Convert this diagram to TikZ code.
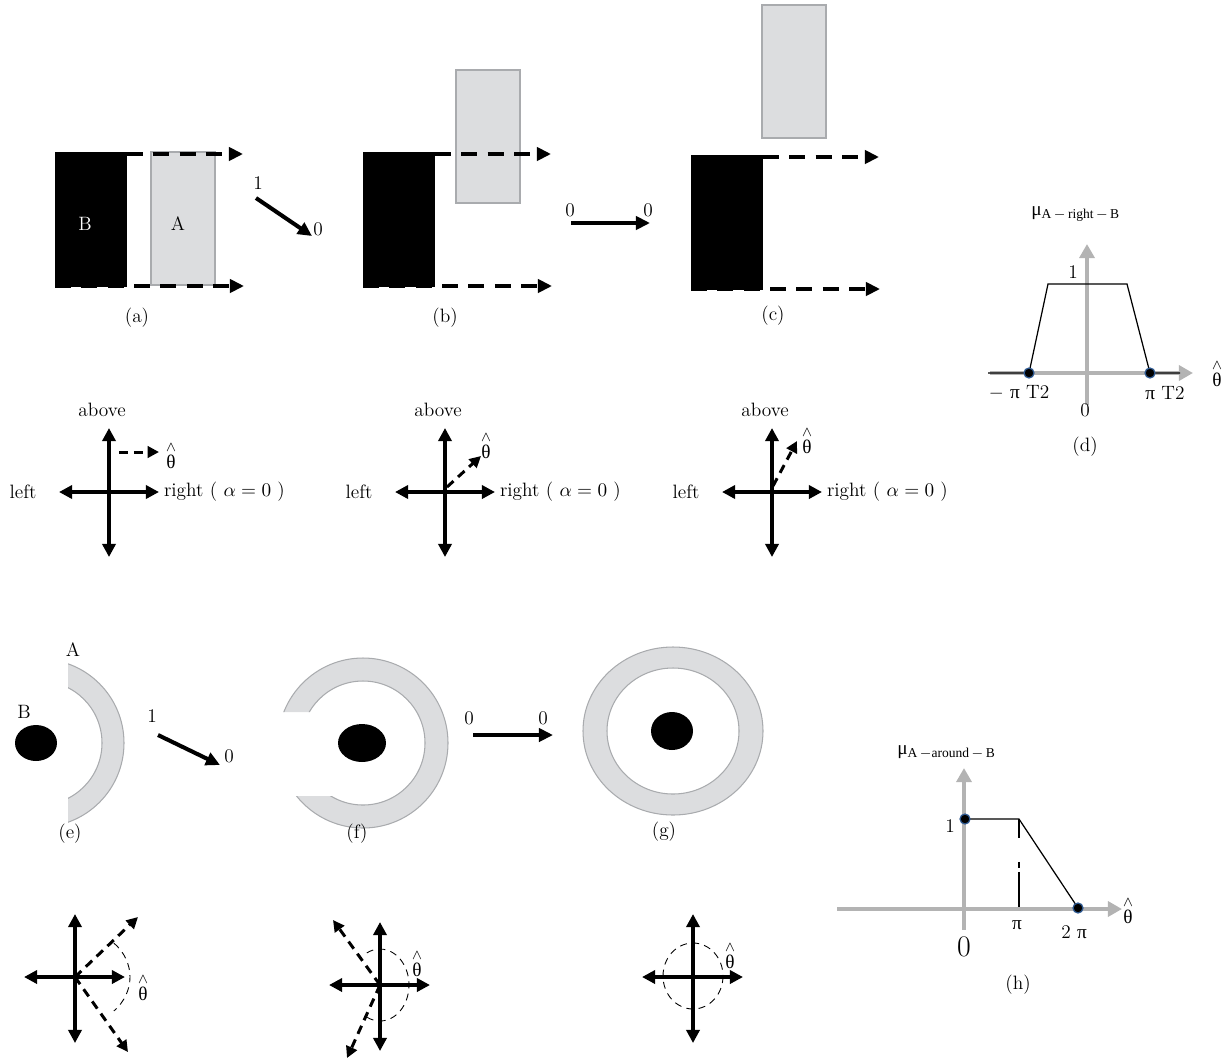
\documentclass[tikz,border=0pt]{standalone}
\usepackage{amsmath}
\usepackage{fontspec}
\newfontfamily\greekfont{Liberation Serif}
\usetikzlibrary{arrows.meta}

\definecolor{boxgray}{HTML}{DCDDDF}
\definecolor{rimgray}{HTML}{A9ABAE}
\definecolor{axisgray}{HTML}{B3B3B3}
\definecolor{dotrim}{HTML}{2F5A92}

\newcommand{\thetahat}{$\stackrel{\wedge}{\text{\greekfont θ}}$}
\newcommand{\upi}{{\greekfont π}}

\tikzset{
  fat arrow/.style={line width=2.3pt, -{Triangle[length=8pt,width=7.5pt]}},
  fat double/.style={line width=2.3pt, {Triangle[length=7.5pt,width=7.5pt]}-{Triangle[length=7.5pt,width=7.5pt]}},
  dash arrow/.style={fat arrow, dash pattern=on 9pt off 6pt},
  ray arrow/.style={line width=1.7pt, dash pattern=on 5pt off 3.5pt, -{Triangle[length=6.5pt,width=6.5pt]}},
  angle mark/.style={line width=0.5pt, dash pattern=on 4pt off 3pt},
  grey box/.style={fill=boxgray, draw=rimgray, line width=0.6pt},
  grey axis/.style={axisgray, line width=2.8pt, -{Triangle[length=8pt,width=8.5pt]}},
  mf line/.style={line width=0.7pt},
  knot/.style={fill=black, draw=dotrim, line width=0.7pt},
}

\begin{document}
\begin{tikzpicture}[x=0.02cm, y=-0.02cm, font=\fontsize{11}{13}\selectfont]
\useasboundingbox (0,0) rectangle (1230,1059);

% top row: B fixed, A moving up
\foreach \bx/\by/\gx/\gy/\cap/\cy in {55/152/151/152/a/318, 363/152/456/70/b/318, 691/155/762/5/c/316} {
  \fill (\bx,\by) rectangle (\bx+72,\by+135);
  \filldraw[grey box] (\gx,\gy) rectangle (\gx+64,\gy+133);
  \draw[dash arrow] (\bx+72,\by+2) -- (\bx+188,\by+2);
  \draw[dash arrow] (\bx,\by+134) -- (\bx+189,\by+134);
  \node (cap-\cap) at (\bx+82,\cy) {(\cap)};
}
\node[white] (B-a) at (85,224) {B};
\node (A-a) at (178,224) {A};

\node (one-a) at (258,183) {1};
\node (zero-a) at (318,229) {0};
\coordinate (a-from) at (256,198);
\coordinate (a-to) at (312,236);
\draw[fat arrow] (a-from) -- (a-to);

\node (zero-b1) at (570,210) {0};
\node (zero-b2) at (648,210) {0};
\coordinate (b-from) at (571,223);
\coordinate (b-to) at (650,223);
\draw[fat arrow] (b-from) -- (b-to);

% (d) membership of right
\draw[grey axis] (990,373) -- (1193,373);
\draw[grey axis] (1087,405) -- (1087,244);
\draw[mf line] (988,373) -- (1029,373) -- (1048,284) -- (1127,284) -- (1150,373) -- (1180,373);
\foreach \px in {1029,1150}
  \filldraw[knot] (\px,373) circle[radius=5];
\node (one-d) at (1073,272) {1};
\node[anchor=west, inner sep=0] (mu-d) at (1031,214) {\greekfont μ$_{\text{A}\,-\,\text{right}\,-\,\text{B}}$};
\node (neg-d) at (1019,393) {$-$\ \upi\ T2};
\node (pos-d) at (1165,393) {\upi\ T2};
\node (zero-d) at (1085,410) {0};
\node (th-d) at (1217,373) {\thetahat};
\node (cap-d) at (1085,447) {(d)};

% compasses, second row
\foreach \cx [count=\i] in {109,445,772} {
  \draw[fat double] (\cx-50,492) -- (\cx+50,492);
  \draw[fat double] (\cx,428) -- (\cx,557);
  \node (above-\i) at (\cx-7,410) {above};
  \node (left-\i) at (\cx-86,492) {left};
  \node[anchor=west, inner sep=1pt] (right-\i) at (\cx+53,492) {right ( $\alpha = 0$ )};
}
\draw[ray arrow] (119,452) -- (159,452);
\node (th-1) at (171,455) {\thetahat};
\draw[ray arrow] (447,487) -- (481,456);
\node (th-2) at (486,445) {\thetahat};
\draw[ray arrow] (773,486) -- (797,441);
\node (th-3) at (807,440) {\thetahat};

% (e) half ring
\begin{scope}
  \clip (68,640) rectangle (140,840);
  \filldraw[grey box, even odd rule] (40,743) circle[radius=84] (40,743) circle[radius=62];
\end{scope}
\fill (36,743) ellipse[x radius=21, y radius=18];
\node (B-e) at (24,712) {B};
\node (A-e) at (73,650) {A};
\node (one-e) at (152,716) {1};
\node (zero-e) at (229,756) {0};
\coordinate (e-from) at (158,735);
\coordinate (e-to) at (220,765);
\draw[fat arrow] (e-from) -- (e-to);
\node (cap-e) at (70,834) {(e)};

% (f) open ring
\begin{scope}[even odd rule]
  \clip (260,640) rectangle (470,850) (260,712) rectangle (335,796);
  \filldraw[grey box] (363,743) circle[radius=85] (363,743) circle[radius=62];
\end{scope}
\fill (362,743) ellipse[x radius=24, y radius=19];
\node (cap-f) at (357,834) {(f)};

\node (zero-f1) at (469,718) {0};
\node (zero-f2) at (543,718) {0};
\coordinate (f-from) at (473,735);
\coordinate (f-to) at (553,735);
\draw[fat arrow] (f-from) -- (f-to);

% (g) closed ring
\filldraw[grey box, even odd rule] (673,731) ellipse[x radius=90, y radius=84] (673,731) ellipse[x radius=66, y radius=63];
\fill (672,731) ellipse[x radius=21, y radius=19];
\node (cap-g) at (664,832) {(g)};

% (h) membership of around
\draw[mf line, dash pattern=on 10.8pt off 13.6pt on 3.4pt off 2.3pt on 20pt] (1019,819) -- (1019,909);
\draw[grey axis] (837,909) -- (1122,909);
\draw[grey axis] (964,930) -- (964,768);
\draw[mf line] (965,819) -- (1019,819) -- (1078,908);
\foreach \px/\py in {965/819, 1078/908}
  \filldraw[knot] (\px,\py) circle[radius=5];
\node[anchor=west, inner sep=0] (mu-h) at (897,752) {\greekfont μ$_{\text{A}\,-\text{around}\,-\,\text{B}}$};
\node (one-h) at (950,826) {1};
\node (pi-h) at (1017,925) {\upi};
\node (twopi-h) at (1074,932) {2 \upi};
\node[font=\fontsize{17}{20}\selectfont] (zero-h) at (964,947) {0};
\node (th-h) at (1128,910) {\thetahat};
\node (cap-h) at (1018,985) {(h)};

% compasses, fourth row
\foreach \cx/\cy [count=\i] in {75/977, 380/985, 693/977} {
  \draw[fat double] (\cx-51,\cy) -- (\cx+50,\cy);
  \draw[fat double] (\cx,\cy-63) -- (\cx,\cy+66);
}
\draw[ray arrow] (75,977) -- (138,917);
\draw[ray arrow] (75,977) -- (128,1052);
\draw[angle mark] (75,977) ++(-45:55 and 48) arc[start angle=-45, end angle=45, x radius=55, y radius=48];
\node (th-e) at (143,987) {\thetahat};

\draw[ray arrow] (380,985) -- (333,920);
\draw[ray arrow] (380,985) -- (347,1058);
\draw[angle mark] (380,985) ++(-117:29 and 36) arc[start angle=-117, end angle=116, x radius=29, y radius=36];
\node (th-f) at (417,963) {\thetahat};

\draw[angle mark] (693,976) ellipse[x radius=30, y radius=33];
\node (th-g) at (730,955) {\thetahat};
\end{tikzpicture}
\end{document}
